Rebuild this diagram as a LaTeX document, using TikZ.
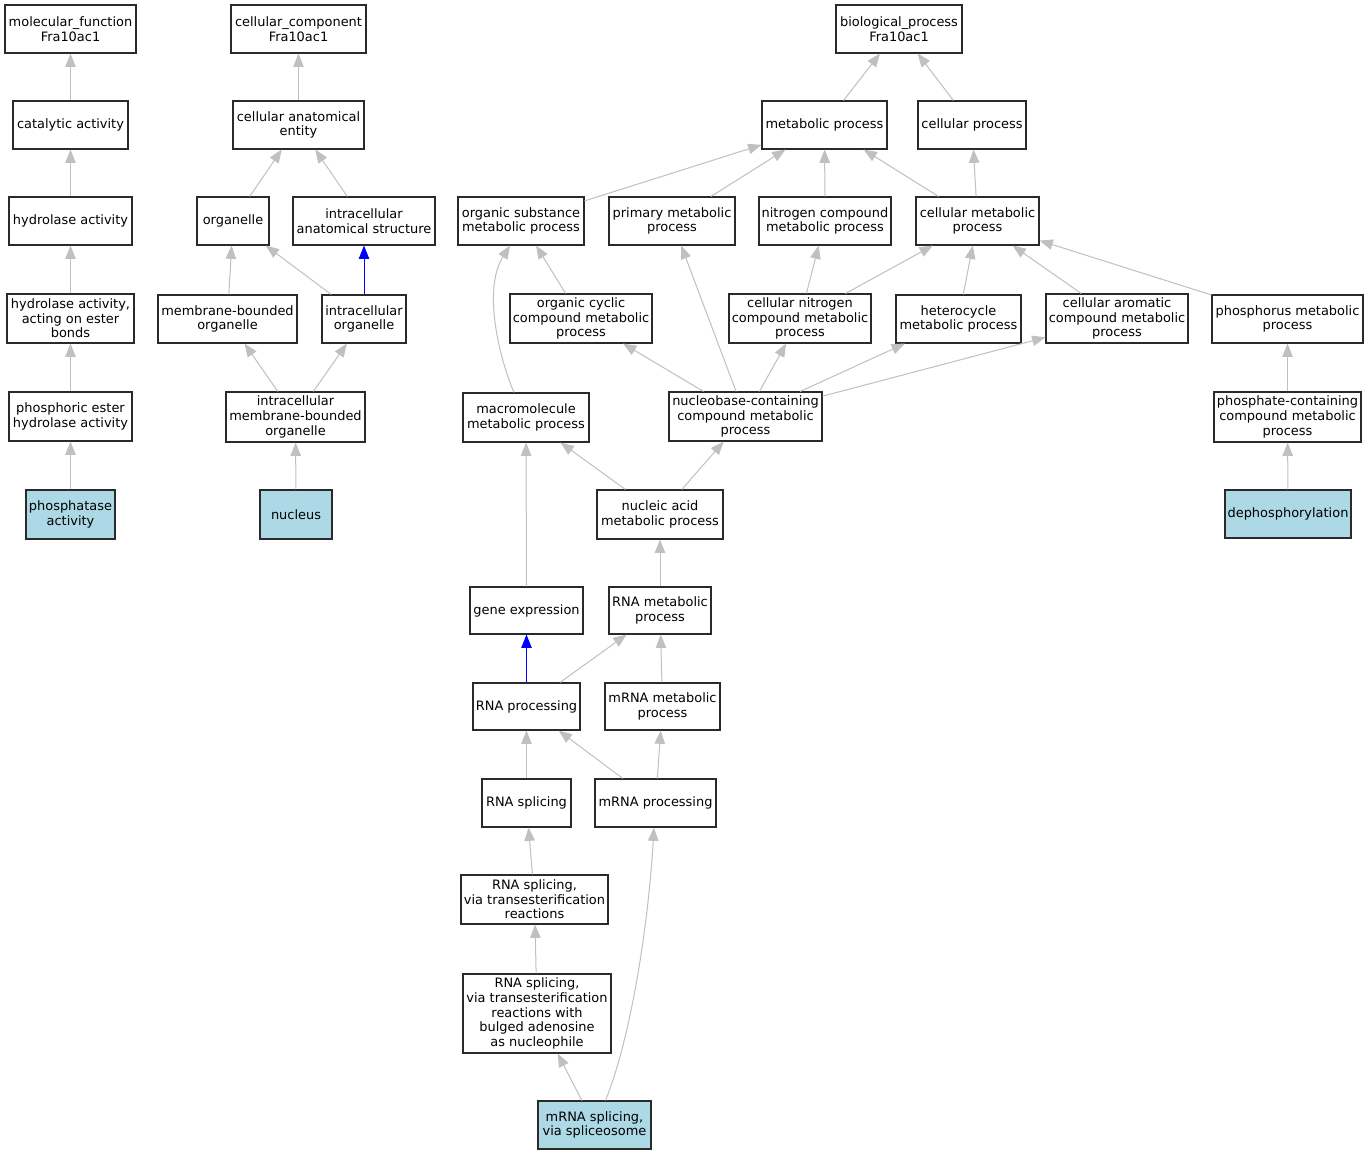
\documentclass[tikz,border=0pt]{standalone}
\usepackage{fontspec}
\setmainfont{DejaVu Sans}
\usetikzlibrary{arrows.meta,calc}
\definecolor{edgegray}{HTML}{C0C0C0}
\definecolor{leafblue}{HTML}{ADD8E6}
\definecolor{isablue}{HTML}{0000FF}
\definecolor{boxline}{HTML}{2A2A2A}
\tikzset{
  gobox/.style={draw=boxline, line width=0.8pt, fill=white, inner sep=0pt, align=center,
    font=\fontsize{9.7pt}{11pt}\selectfont},
  leaf/.style={fill=leafblue},
  edge/.style={draw=edgegray, line width=0.75pt, -{Triangle[length=10pt,width=7.8pt]}},
  isaedge/.style={draw=isablue, line width=0.75pt, -{Triangle[length=10pt,width=7.8pt]}},
}
\newcommand\gbox[7][]{\node[gobox,#1,minimum width={(#5-#3)*0.75pt},minimum height={(#6-#4)*0.75pt}] (#2) at ({(#3+#5)/2},{(#4+#6)/2}) {#7};}
\begin{document}
\begin{tikzpicture}[x=0.75pt,y=-0.75pt]
\useasboundingbox[fill=white] (0,0) rectangle (1369,1155);
% molecular function
\gbox{mf}{5}{5}{136}{53}{molecular\_function\\Fra10ac1}
\gbox{cat}{13}{101}{128}{149}{catalytic activity}
\gbox{hyd}{9}{197}{132}{245}{hydrolase activity}
\gbox{hae}{7}{294}{134}{343}{hydrolase activity,\\acting on ester\\bonds}
\gbox{pehy}{9}{392}{132}{441}{phosphoric ester\\hydrolase activity}
\gbox[leaf]{phact}{26}{490}{115}{539}{phosphatase\\activity}
% cellular component
\gbox{cc}{231}{5}{366}{53}{cellular\_component\\Fra10ac1}
\gbox{cae}{233}{101}{364}{149}{cellular anatomical\\entity}
\gbox{org}{197}{197}{269}{245}{organelle}
\gbox{ias}{293}{197}{435}{245}{intracellular\\anatomical structure}
\gbox{mbo}{158}{295}{297}{343}{membrane-bounded\\organelle}
\gbox{io}{322}{295}{406}{343}{intracellular\\organelle}
\gbox{imbo}{226}{392}{365}{442}{intracellular\\membrane-bounded\\organelle}
\gbox[leaf]{nuc}{260}{490}{332}{539}{nucleus}
% biological process
\gbox{bp}{836}{5}{962}{53}{biological\_process\\Fra10ac1}
\gbox{met}{762}{101}{887}{149}{metabolic process}
\gbox{cp}{918}{101}{1026}{149}{cellular process}
\gbox{osmp}{458}{197}{584}{245}{organic substance\\metabolic process}
\gbox{pmp}{609}{197}{735}{245}{primary metabolic\\process}
\gbox{ncmp}{759}{197}{891}{245}{nitrogen compound\\metabolic process}
\gbox{cmp}{916}{197}{1039}{245}{cellular metabolic\\process}
\gbox{occmp}{510}{294}{652}{343}{organic cyclic\\compound metabolic\\process}
\gbox{cncmp}{729}{294}{871}{343}{cellular nitrogen\\compound metabolic\\process}
\gbox{hmp}{896}{295}{1021}{343}{heterocycle\\metabolic process}
\gbox{cacmp}{1046}{294}{1188}{343}{cellular aromatic\\compound metabolic\\process}
\gbox{phmp}{1212}{295}{1363}{343}{phosphorus metabolic\\process}
\gbox{mmp}{463}{393}{589}{442}{macromolecule\\metabolic process}
\gbox{nbcmp}{669}{392}{822}{441}{nucleobase-containing\\compound metabolic\\process}
\gbox{pccmp}{1214}{392}{1361}{442}{phosphate-containing\\compound metabolic\\process}
\gbox[leaf]{deph}{1225}{490}{1351}{538}{dephosphorylation}
\gbox{namp}{597}{490}{723}{539}{nucleic acid\\metabolic process}
\gbox{ge}{470}{587}{583}{634}{gene expression}
\gbox{rmp}{609}{587}{711}{634}{RNA metabolic\\process}
\gbox{rp}{473}{683}{580}{730}{RNA processing}
\gbox{mrmp}{605}{683}{720}{730}{mRNA metabolic\\process}
\gbox{rs}{482}{779}{571}{827}{RNA splicing}
\gbox{mrp}{595}{779}{716}{827}{mRNA processing}
\gbox{rst}{461}{875}{608}{924}{RNA splicing,\\via transesterification\\reactions}
\gbox{rsb}{463}{974}{611}{1053}{RNA splicing,\\via transesterification\\reactions with\\bulged adenosine\\as nucleophile}
\gbox[leaf]{mrs}{538}{1101}{651}{1149}{mRNA splicing,\\via spliceosome}
% edges: molecular function
\draw[edge] (cat) -- (mf);
\draw[edge] (hyd) -- (cat);
\draw[edge] (hae) -- (hyd);
\draw[edge] (pehy) -- (hae);
\draw[edge] (phact) -- (pehy);
% edges: cellular component
\draw[edge] (cae) -- (cc);
\draw[edge] (org) -- (cae);
\draw[edge] (ias) -- (cae);
\draw[edge] (mbo) -- (org);
\draw[edge] (io) -- (org);
\draw[isaedge] (io) -- (ias);
\draw[edge] (imbo) -- (mbo);
\draw[edge] (imbo) -- (io);
\draw[edge] (nuc) -- (imbo);
% edges: biological process
\draw[edge] (met) -- (bp);
\draw[edge] (cp) -- (bp);
\draw[edge] (osmp) -- (met);
\draw[edge] (pmp) -- (met);
\draw[edge] (ncmp) -- (met);
\draw[edge] (cmp) -- (met);
\draw[edge] (cmp) -- (cp);
\draw[edge] (occmp) -- (osmp);
\draw[edge] (cncmp) -- (ncmp);
\draw[edge] (cncmp) -- (cmp);
\draw[edge] (hmp) -- (cmp);
\draw[edge] (cacmp) -- (cmp);
\draw[edge] (phmp) -- (cmp);
\draw[edge] ($(mmp.north)+(-12,0)$) .. controls (500,360) and (482,290) .. ($(osmp.south)+(-11,0)$);
\draw[edge] (nbcmp) -- (occmp);
\draw[edge] (nbcmp) -- (pmp);
\draw[edge] (nbcmp) -- (cncmp);
\draw[edge] (nbcmp) -- (hmp);
\draw[edge] (nbcmp) -- (cacmp);
\draw[edge] (pccmp) -- (phmp);
\draw[edge] (deph) -- (pccmp);
\draw[edge] (namp) -- (mmp);
\draw[edge] (namp) -- (nbcmp);
\draw[edge] (ge) -- (mmp);
\draw[edge] (rmp) -- (namp);
\draw[isaedge] (rp) -- (ge);
\draw[edge] (rp) -- (rmp);
\draw[edge] (mrmp) -- (rmp);
\draw[edge] (rs) -- (rp);
\draw[edge] (mrp) -- (rp);
\draw[edge] (mrp) -- (mrmp);
\draw[edge] (rst) -- (rs);
\draw[edge] (rsb) -- (rst);
\draw[edge] (mrs) -- (rsb);
\draw[edge] ($(mrs.north)+(11,0)$) .. controls (630,1040) and (648,930) .. ($(mrp.south)+(-1.5,0)$);
\end{tikzpicture}
\end{document}
